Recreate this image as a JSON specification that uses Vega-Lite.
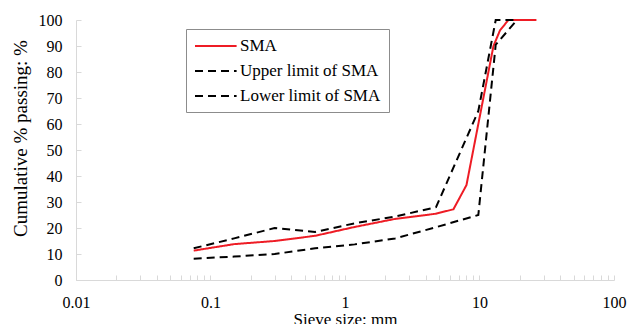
{
  "$schema": "https://vega.github.io/schema/vega-lite/v6.json",
  "autosize": "none",
  "width": 538,
  "height": 260,
  "padding": {"left": 76, "top": 20, "right": 16, "bottom": 44},
  "background": "white",
  "config": {
    "font": "Liberation Serif",
    "view": {"stroke": null},
    "axis": {"grid": false, "labelColor": "#000", "titleColor": "#000", "labelFontSize": 16, "titleFontSize": 17, "titleFontWeight": "normal", "domainColor": "#d9d9d9", "tickColor": "#d9d9d9", "domainWidth": 1}
  },
  "data": {"values": [
    {"size": 0.075, "pct": 11.3, "series": "SMA"},
    {"size": 0.15, "pct": 13.8, "series": "SMA"},
    {"size": 0.3, "pct": 15.0, "series": "SMA"},
    {"size": 0.6, "pct": 17.0, "series": "SMA"},
    {"size": 1.18, "pct": 20.4, "series": "SMA"},
    {"size": 2.36, "pct": 23.5, "series": "SMA"},
    {"size": 4.75, "pct": 25.5, "series": "SMA"},
    {"size": 6.4, "pct": 27.2, "series": "SMA"},
    {"size": 8.0, "pct": 36.5, "series": "SMA"},
    {"size": 12.7, "pct": 90.0, "series": "SMA"},
    {"size": 14.2, "pct": 96.0, "series": "SMA"},
    {"size": 16.4, "pct": 100, "series": "SMA"},
    {"size": 26.5, "pct": 100, "series": "SMA"},
    {"size": 0.075, "pct": 12.2, "series": "Upper limit of SMA"},
    {"size": 0.15, "pct": 16.0, "series": "Upper limit of SMA"},
    {"size": 0.3, "pct": 20.0, "series": "Upper limit of SMA"},
    {"size": 0.6, "pct": 18.5, "series": "Upper limit of SMA"},
    {"size": 1.18, "pct": 21.8, "series": "Upper limit of SMA"},
    {"size": 2.36, "pct": 24.4, "series": "Upper limit of SMA"},
    {"size": 4.75, "pct": 28.0, "series": "Upper limit of SMA"},
    {"size": 9.8, "pct": 65.0, "series": "Upper limit of SMA"},
    {"size": 13.2, "pct": 100, "series": "Upper limit of SMA"},
    {"size": 19, "pct": 100, "series": "Upper limit of SMA"},
    {"size": 0.075, "pct": 8.2, "series": "Lower limit of SMA"},
    {"size": 0.15, "pct": 9.0, "series": "Lower limit of SMA"},
    {"size": 0.3, "pct": 10.0, "series": "Lower limit of SMA"},
    {"size": 0.6, "pct": 12.2, "series": "Lower limit of SMA"},
    {"size": 1.18, "pct": 13.7, "series": "Lower limit of SMA"},
    {"size": 2.36, "pct": 16.0, "series": "Lower limit of SMA"},
    {"size": 4.75, "pct": 20.3, "series": "Lower limit of SMA"},
    {"size": 9.8, "pct": 25.0, "series": "Lower limit of SMA"},
    {"size": 13.2, "pct": 90.5, "series": "Lower limit of SMA"},
    {"size": 19, "pct": 100, "series": "Lower limit of SMA"}
  ]},
  "mark": {"type": "line", "strokeWidth": 2, "clip": false},
  "encoding": {
    "x": {
      "field": "size", "type": "quantitative",
      "scale": {"type": "log", "domain": [0.01, 100], "nice": false},
      "axis": {
        "title": "Sieve size: mm",
        "values": [0.01,0.02,0.03,0.04,0.05,0.06,0.07,0.08,0.09,0.1,0.2,0.3,0.4,0.5,0.6,0.7,0.8,0.9,1,2,3,4,5,6,7,8,9,10,20,30,40,50,60,70,80,90,100],
        "labelExpr": "abs(log(datum.value)/LN10 - round(log(datum.value)/LN10)) < 1e-6 ? format(datum.value, '~g') : ''",
        "labelFont": "Liberation Serif",
        "titleFont": "Liberation Serif",
        "tickSize": -5,
        "labelPadding": 19,
        "labelFlush": false,
        "labelOverlap": false,
        "titleBaseline": "top",
        "titleY": 31,
        "titleX": 269,
        "titleAlign": "center"
      }
    },
    "y": {
      "field": "pct", "type": "quantitative",
      "scale": {"domain": [0, 100], "nice": false},
      "axis": {
        "title": "Cumulative % passing: %",
        "labelFont": "Liberation Serif",
        "titleFont": "Liberation Serif",
        "titleFontSize": 19,
        "values": [0,10,20,30,40,50,60,70,80,90,100],
        "tickSize": -5,
        "labelPadding": 19,
        "titleX": -56,
        "titleY": 118,
        "titleAngle": -90,
        "titleAlign": "center",
        "titleBaseline": "middle"
      }
    },
    "color": {
      "field": "series", "type": "nominal",
      "scale": {"domain": ["SMA", "Upper limit of SMA", "Lower limit of SMA"], "range": ["#ee1c25", "#000000", "#000000"]},
      "legend": {
        "title": null,
        "orient": "none",
        "legendX": 110,
        "legendY": 9,
        "symbolType": "M-1,0H4.2",
        "symbolSize": 256,
        "symbolStrokeWidth": 2,
        "symbolFillColor": "transparent",
        "labelFont": "Liberation Serif",
        "labelFontSize": 17,
        "labelColor": "#000",
        "labelOffset": 28,
        "rowPadding": 8,
        "padding": 8,
        "strokeColor": "#8c8c8c",
        "fillColor": "white"
      }
    },
    "strokeDash": {
      "field": "series", "type": "nominal",
      "scale": {"domain": ["SMA", "Upper limit of SMA", "Lower limit of SMA"], "range": [[1, 0], [8, 5], [8, 5]]},
      "legend": {
        "title": null,
        "orient": "none",
        "legendX": 110,
        "legendY": 9,
        "symbolType": "M-1,0H4.2",
        "symbolSize": 256,
        "symbolStrokeWidth": 2,
        "symbolFillColor": "transparent",
        "labelFont": "Liberation Serif",
        "labelFontSize": 17,
        "labelColor": "#000",
        "labelOffset": 28,
        "rowPadding": 8,
        "padding": 8,
        "strokeColor": "#8c8c8c",
        "fillColor": "white"
      }
    }
  }
}
